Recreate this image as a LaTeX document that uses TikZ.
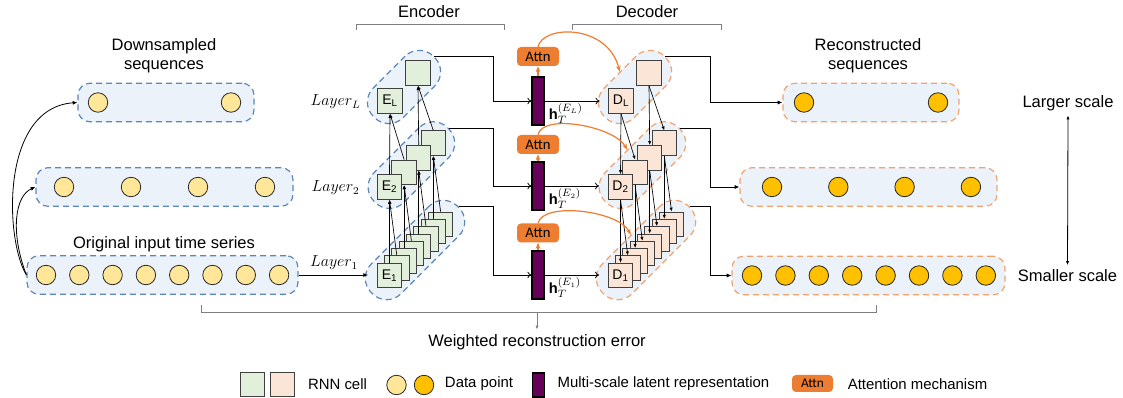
\documentclass[tikz,border=0pt]{standalone}
\usepackage{fontspec}
\setmainfont{Liberation Sans}
\newfontfamily\attnfont{Carlito}
\usetikzlibrary{arrows.meta}
\definecolor{seqfill}{HTML}{EBF2FA}
\definecolor{encdash}{HTML}{5B87B8}
\definecolor{decdash}{HTML}{F4A26B}
\definecolor{attncol}{HTML}{ED7D31}
\definecolor{encfill}{HTML}{E2EFDA}
\definecolor{decfill}{HTML}{FBE5D6}
\definecolor{ptlight}{HTML}{FFE699}
\definecolor{ptdark}{HTML}{FFC000}
\definecolor{latentcol}{HTML}{660058}
\definecolor{bracecol}{HTML}{808080}
\tikzset{
  seqbox/.style={draw=encdash, fill=seqfill, dash pattern=on 4.5pt off 3pt, line width=0.9pt, rounded corners=9pt, minimum height=29pt},
  recbox/.style={seqbox, draw=decdash},
  encgrp/.style={seqbox, minimum height=31.5pt, rounded corners=15pt, rotate=45},
  decgrp/.style={encgrp, draw=decdash},
  ptin/.style={circle, draw=black!85, fill=ptlight, line width=0.6pt, minimum size=14.6pt, inner sep=0pt},
  ptout/.style={ptin, fill=ptdark},
  enccell/.style={draw=black!75, fill=encfill, line width=0.75pt, minimum size=18.4pt, inner sep=0pt, font=\fontsize{10.5}{12}\selectfont},
  deccell/.style={enccell, fill=decfill},
  latent/.style={draw=black, fill=latentcol, line width=0.9pt, minimum width=9pt, minimum height=36pt, inner sep=0pt},
  attn/.style={fill=attncol, rounded corners=3pt, minimum width=31.5pt, minimum height=14.25pt, inner sep=0pt, font=\attnfont\fontsize{11}{13}\selectfont},
  lbl/.style={font=\fontsize{12.4}{14.3}\selectfont, align=center},
  lgd/.style={font=\fontsize{11.2}{13}\selectfont},
  hlbl/.style={anchor=south west, inner sep=1pt, xshift=2pt, font=\fontsize{11}{13}\selectfont},
  laylbl/.style={font=\fontsize{12}{14}\selectfont},
  cellarr/.style={-{Latex[length=3pt,width=2.4pt]}, line width=0.5pt},
  flowarr/.style={-{Latex[length=3.5pt,width=3pt]}, line width=0.6pt},
  openarr/.style={-{To[length=3pt,width=5pt]}, line width=0.6pt},
  attnarr/.style={-{Stealth[length=4.5pt,width=3.5pt]}, attncol, line width=0.9pt},
}
\begin{document}
\begin{tikzpicture}[x=0.75pt, y=-0.75pt]
\useasboundingbox (0,0) rectangle (1123,398);
% input sequences
\node[lbl] (dstext) at (164,56) {Downsampled\\sequences};
\node[seqbox, minimum width=132pt] (ds1) at (166,102.5) {};
\node[seqbox, minimum width=192.75pt] (ds2) at (164.5,187) {};
\node[lbl] (origtext) at (164,244) {Original input time series};
\node[seqbox, minimum width=203.25pt] (orig) at (162.5,275) {};
\foreach \i in {0,1} \node[ptin] (a\i) at (98+133*\i,102.5) {};
\foreach \i in {0,...,3} \node[ptin] (b\i) at (64+67*\i,187) {};
\foreach \i in {0,...,7} \node[ptin] (c\i) at (46+33.3*\i,275) {};
\draw[flowarr] (orig.west) .. controls (5,240) and (0,108) .. (ds1.west);
\draw[flowarr] (orig.west) .. controls (10,232) and (15,196) .. (ds2.west);

% encoder
\node[lbl] (enctext) at (429,12) {Encoder};
\draw[bracecol, line width=0.75pt] (356,30) -- (356,25) -- (504,25) -- (504,30);
\node[encgrp, minimum width=63.75pt] (egL) at (404,87) {};
\node[encgrp, minimum width=78pt] (eg2) at (411.4,165.1) {};
\node[encgrp, minimum width=91.5pt] (eg1) at (415,250) {};
\foreach \k in {7,...,1} \node[enccell] (e1\k) at (389.5+7.3*\k,275.5-7.3*\k) {};
\node[enccell] (e10) at (389.5,275.5) {E\textsubscript{1}};
\foreach \k in {3,2,1} \node[enccell] (e2\k) at (389.5+14.6*\k,187-14.6*\k) {};
\node[enccell] (e20) at (389.5,187) {E\textsubscript{2}};
\node[enccell] (eL1) at (418,73) {};
\node[enccell] (eL0) at (390,101) {E\textsubscript{L}};
\foreach \k in {0,...,7} {
  \pgfmathtruncatemacro\j{\k/2}
  \draw[cellarr] (e1\k.north) -- (e2\j.south);
}
\foreach \k in {0,...,3} {
  \pgfmathtruncatemacro\j{\k/2}
  \draw[cellarr] (e2\k.north) -- (eL\j.south);
}
\node[laylbl] (layL) at (335.5,102) {$Layer_L$};
\node[laylbl] (lay2) at (335.5,188) {$Layer_2$};
\node[laylbl] (lay1) at (334,263) {$Layer_1$};
\draw[flowarr, shorten >=6.5pt] (orig) -- (orig -| e10.west);

% latent vectors and attention
\node[latent] (hL) at (538,101) {};
\node[latent] (h2) at (538,186) {};
\node[latent] (h1) at (538,275) {};
\node[hlbl] (hlblL) at (hL.south east) {$\mathbf{h}_T^{(E_L)}$};
\node[hlbl] (hlbl2) at (h2.south east) {$\mathbf{h}_T^{(E_2)}$};
\node[hlbl] (hlbl1) at (h1.south east) {$\mathbf{h}_T^{(E_1)}$};
\node[attn] (aL) at (538,56.5) {Attn};
\node[attn] (a2) at (538,144.5) {Attn};
\node[attn] (a1) at (538,233) {Attn};
\coordinate (ejog) at (493,0);
\draw[openarr] (egL.east) -| (ejog |- hL) -- (hL);
\draw[openarr] (eg2.east) -| (ejog |- h2) -- (h2);
\draw[openarr] (eg1.east) -| (ejog |- h1) -- (h1);
\draw[attnarr] (hL) -- (aL);
\draw[attnarr] (h2) -- (a2);
\draw[attnarr] (h1) -- (a1);

% decoder
\node[lbl] (dectext) at (647,12) {Decoder};
\draw[bracecol, line width=0.75pt] (572,30) -- (572,25) -- (721,25) -- (721,30);
\node[decgrp, minimum width=63.75pt] (dgL) at (635,87) {};
\node[decgrp, minimum width=78pt] (dg2) at (642.4,165.1) {};
\node[decgrp, minimum width=91.5pt] (dg1) at (646,250) {};
\foreach \k in {7,...,1} \node[deccell] (d1\k) at (620.5+7.3*\k,275.5-7.3*\k) {};
\node[deccell] (d10) at (620.5,275.5) {D\textsubscript{1}};
\foreach \k in {3,2,1} \node[deccell] (d2\k) at (620.5+14.6*\k,187-14.6*\k) {};
\node[deccell] (d20) at (620.5,187) {D\textsubscript{2}};
\node[deccell] (dL1) at (649,73) {};
\node[deccell] (dL0) at (621,101) {D\textsubscript{L}};
\foreach \k in {0,...,3} {
  \pgfmathtruncatemacro\j{\k/2}
  \draw[cellarr] (dL\j.south) -- (d2\k.north);
}
\foreach \k in {0,...,7} {
  \pgfmathtruncatemacro\j{\k/2}
  \draw[cellarr] (d2\j.south) -- (d1\k.north);
}
\draw[openarr, shorten >=6.5pt] (hL) -- (hL -| dL0.west);
\draw[openarr, shorten >=6.5pt] (h2) -- (h2 -| d20.west);
\draw[openarr, shorten >=6.5pt] (h1) -- (h1 -| d10.west);
\draw[attnarr] (aL.north) .. controls +(5,-22) and +(-12,-48) .. (dgL.north);
\draw[attnarr] (a2.north) .. controls +(5,-22) and +(-12,-23) .. (dg2.north);
\draw[attnarr] (a1.north) .. controls +(5,-22) and +(-12,-24) .. (dg1.north);

% reconstructed sequences
\node[lbl] (rectext) at (868,56) {Reconstructed\\sequences};
\node[recbox, minimum width=132pt] (r1) at (871,102.5) {};
\node[recbox, minimum width=192.75pt] (r2) at (868.5,187) {};
\node[recbox, minimum width=204.75pt] (r3) at (868.5,275.5) {};
\foreach \i in {0,1} \node[ptout] (p\i) at (804+134*\i,102.5) {};
\foreach \i in {0,...,3} \node[ptout] (q\i) at (772+66.3*\i,187) {};
\foreach \i in {0,...,7} \node[ptout] (s\i) at (752+33.4*\i,275.5) {};
\coordinate (djog) at (710,0);
\draw[flowarr] (dgL.east) -| (djog |- r1) -- (r1);
\draw[flowarr] (dg2.east) -| (djog |- r2) -- (r2);
\draw[flowarr] (dg1.east) -| (djog |- r3) -- (r3);
\node[lbl] (larger) at (1068,103) {Larger scale};
\node[lbl] (smaller) at (1067.5,276) {Smaller scale};
\draw[{Latex[length=3pt,width=2.4pt]}-{Latex[length=3pt,width=2.4pt]}, line width=0.6pt] (larger.south) -- (smaller.north);

% reconstruction error
\draw[bracecol, line width=0.75pt] (201,305) -- (201,313) -- (876,313) -- (876,305);
\coordinate (errmid) at (537,313);
\node[lbl] (errtext) at (537,342) {Weighted reconstruction error};
\draw[bracecol, -{Latex[length=3pt,width=2.4pt]}, line width=0.6pt] (errmid) -- (errtext);

% legend
\node[enccell, minimum size=18pt] (lgenc) at (252,384.5) {};
\node[deccell, minimum size=18pt] (lgdec) at (282,384.5) {};
\node[lgd] (lgcell) at (337.5,384) {RNN cell};
\node[ptin] (lgin) at (396.5,385) {};
\node[ptout] (lgout) at (424,385) {};
\node[lgd] (lgpt) at (479,384) {Data point};
\node[latent, minimum height=18pt] (lglat) at (538.5,385) {};
\node[lgd] (lglattext) at (663.5,384) {Multi-scale latent representation};
\node[attn, minimum width=30.75pt, minimum height=12.75pt, font=\attnfont\fontsize{10}{12}\selectfont] (lgattn) at (812.5,383.5) {Attn};
\node[lgd] (lgattntext) at (917.5,384) {Attention mechanism};
\end{tikzpicture}
\end{document}
